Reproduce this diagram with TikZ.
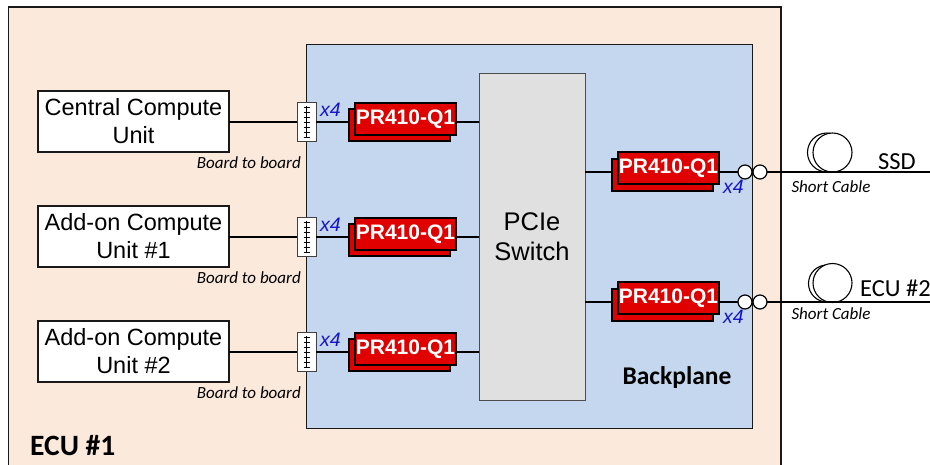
\documentclass[tikz,border=0pt]{standalone}
\usepackage{fontspec}
\setmainfont{Liberation Sans}
\newfontfamily\calfont{Carlito}
\definecolor{ecubg}{HTML}{FBE9DC}
\definecolor{bpbg}{HTML}{C5D7EF}
\definecolor{swbg}{HTML}{E0E0E0}
\definecolor{prred}{HTML}{E00000}
\definecolor{xblue}{HTML}{1414C8}
\tikzset{
  linew/.style={line width=1.2pt,draw=black!90},
  panel/.style={linew,anchor=north west,inner sep=0pt,outer sep=0pt},
  compute/.style={linew,fill=white,minimum width=191pt,minimum height=61pt,inner sep=0pt,outer sep=0pt,align=center,font=\fontsize{23.5}{28}\selectfont},
  prback/.style={line width=2pt,draw=black,fill=prred,minimum width=101pt,minimum height=32pt,inner sep=0pt,outer sep=0pt},
  prfront/.style={prback,text=white,font=\fontsize{21}{24}\selectfont\bfseries},
  conn/.style={draw=black!75,line width=1pt,fill=white,minimum width=19pt,minimum height=39pt,inner sep=0pt,outer sep=0pt},
  xfour/.style={text=xblue,inner sep=0pt,font=\fontsize{19.5}{22}\selectfont\itshape},
  smalllab/.style={inner sep=0pt,font=\calfont\fontsize{17}{20}\selectfont\itshape},
  biglab/.style={inner sep=0pt,font=\calfont\fontsize{24.5}{28}\selectfont},
  ring/.style={circle,draw=black,line width=1.2pt,fill=white,minimum size=14pt,inner sep=0pt,outer sep=0pt},
  loopc/.style={circle,draw=black,line width=1.1pt,fill=white,inner sep=0pt,outer sep=0pt},
  wire/.style={line width=1.1pt,draw=black}
}
\begin{document}
\begin{tikzpicture}[x=1pt,y=-1pt]
\useasboundingbox (0,0) rectangle (930,464);
\fill[white] (0,0) rectangle (930,464);
% ECU panel runs off the bottom of the picture
\coordinate (ecuNW) at (8.5,7);
\coordinate (ecuSE) at (781,470);
\filldraw[linew,fill=ecubg] (ecuNW) rectangle (ecuSE);
\node[panel,fill=bpbg,minimum width=446pt,minimum height=384pt] (bp) at (306.5,44.5) {};
\node[panel,fill=swbg,draw=black!70,line width=1pt,minimum width=106pt,minimum height=327pt,align=center,font=\fontsize{25.5}{30}\selectfont] (sw) at (479,73) {PCIe\\Switch};
% Compute units
\node[compute] (cu1) at (133.5,121.5) {Central Compute\\Unit};
\node[compute] (cu2) at (133.5,236.5) {Add-on Compute\\Unit \#1};
\node[compute] (cu3) at (133.5,351.5) {Add-on Compute\\Unit \#2};
% Board to board connectors
\foreach \n/\y in {1/122,2/237,3/352}{
  \node[conn] (bb\n) at (306.5,\y) {};
  \draw[line width=1pt] (306.5,\y-16) -- (306.5,\y+15);
  \foreach \d in {-15,-10,-5,0,5,10,15}
    \draw[line width=.9pt] (303.5,\y+\d) -- (309.5,\y+\d);
  \node[prback] (b\n) at (399,\y+2.5) {};
  \node[prfront] (p\n) at (405.5,\y-3) {\raisebox{-1pt}{PR410-Q1}};
  \node[xfour,anchor=west] (x\n) at (320,\y-12) {x4};
  \node[smalllab,anchor=east] (bt\n) at (301,\y+41) {Board to board};
  \draw[wire] (cu\n.east |- bb\n.west) -- (bb\n.west);
  \draw[wire] (bb\n.east) -- (bb\n.east -| b\n.west);
  \draw[wire] (p\n.east |- bb\n.east) -- (bb\n.east -| sw.west);
}
% Right side
\node[loopc,minimum size=39pt] (la) at (827,152.5) {};
\node[loopc,minimum size=39pt] (lb) at (832.5,152.5) {};
\node[loopc,minimum size=37pt] (lc) at (827,283.5) {};
\node[loopc,minimum size=39pt] (ld) at (832.5,283) {};
\foreach \n/\y in {4/172,5/302}{
  \node[prback] (b\n) at (662.5,\y+2.5) {};
  \node[prfront] (p\n) at (668.5,\y-4) {\raisebox{-1pt}{PR410-Q1}};
  \node[xfour,anchor=west] (x\n) at (723,\y+15) {x4};
  \node[ring] (ra\n) at (745,\y) {};
  \node[ring] (rb\n) at (760,\y) {};
  \coordinate (end\n) at (930,\y);
  \draw[wire] (ra\n.west -| sw.east) -- (ra\n.west -| b\n.west);
  \draw[wire] (ra\n.west -| p\n.east) -- (ra\n.west);
  \draw[wire] (rb\n.east) -- (end\n);
}
\node[biglab] (ssd) at (897,162) {SSD};
\node[biglab,anchor=west] (ecu2) at (860,288) {ECU \#2};
\node[smalllab] (sc1) at (831,187) {Short Cable};
\node[smalllab] (sc2) at (831,314) {Short Cable};
\node[inner sep=0pt,font=\calfont\fontsize{25.5}{28}\selectfont\bfseries] (bplab) at (677,378) {Backplane};
\node[inner sep=0pt,anchor=west,font=\calfont\fontsize{29.5}{32}\selectfont\bfseries] (ecu1) at (30,446) {ECU \#1};
\end{tikzpicture}
\end{document}
